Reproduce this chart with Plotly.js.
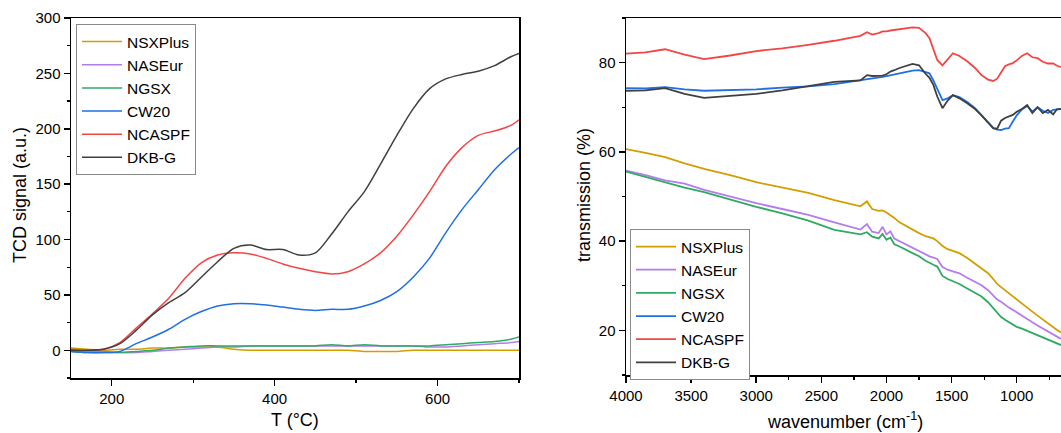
<!DOCTYPE html>
<html>
<head>
<meta charset="utf-8">
<script src="https://cdn.plot.ly/plotly-3.0.1.min.js"></script>
<style>html,body{margin:0;padding:0;background:#fff;}#chart{width:1061px;height:433px;}</style>
</head>
<body>
<div id="chart"></div>
<script>
// ---- Left panel: TCD signal vs temperature ----
var T = [150,170,190,210,230,250,270,290,310,330,350,370,390,410,430,450,470,490,510,530,550,570,590,610,630,650,670,690,700];
var tcdNSXPlus = [2,1,0,1,1,2,2,3,3,3,1,0,0,0,0,0,0,0,-1,-1,-1,0,0,0,0,0,0,0,0];
var tcdNASEur  = [0,-1,-1,-2,-2,-1,0,1,2,3,3,4,4,4,4,4,4,4,4,4,4,4,3,3,4,5,6,7,8];
var tcdNGSX    = [-1,-2,-2,-2,-1,0,2,3,4,4,4,4,4,4,4,4,5,4,5,4,4,4,4,5,6,7,8,10,12];
var tcdCW20    = [-1,-2,-2,-1,6,12,19,28,35,40,42,42,41,39,37,36,37,37,40,45,53,66,83,106,127,145,163,177,183];
var tcdNCASPF  = [1,0,1,7,20,33,47,65,79,86,88,87,83,78,74,71,69,71,78,88,103,122,143,166,183,194,198,203,208];
var tcdDKBG    = [0,0,1,6,18,32,43,52,66,80,92,95,91,91,86,88,105,125,143,168,194,218,236,245,249,252,257,265,268];

// ---- Right panel: FTIR transmission vs wavenumber ----
var W = [4000,3850,3700,3550,3400,3200,3000,2800,2600,2400,2200,2150,2110,2060,2030,2000,1970,1940,1900,1800,1750,1700,1670,1640,1610,1570,1530,1490,1440,1380,1320,1270,1220,1180,1150,1120,1090,1060,1030,1000,960,920,880,840,800,760,720,690,660];
var irNSXPlus = [60.6,59.8,58.8,57.4,56.2,54.8,53.2,52.0,50.8,49.2,47.8, 48.9,47.2,46.8,46.9,46.4,45.8,45.2,44.2, 42.5,41.8,41.1,40.9,40.6,40.0,38.9,38.2,37.8,37.3, 36.2,35.0,34.0,32.8,31.5,30.4,29.7,29.0,28.2,27.5, 27.0,26.0,25.1,24.2,23.3,22.4,21.6,20.8,20.1,19.5];
var irNASEur  = [55.8,54.8,53.6,52.9,51.5,50.0,48.5,47.2,45.9,44.2,42.6, 43.8,42.1,41.8,43.2,41.5,42.2,40.6,40.0, 38.6,37.9,37.0,36.6,36.3,36.0,34.2,33.6,33.2,32.8, 31.8,30.8,30.1,29.0,27.7,26.9,26.4,25.7,25.1,24.6, 24.0,23.3,22.6,21.8,21.1,20.4,19.8,19.1,18.6,18.1];
var irNGSX    = [55.6,54.4,53.3,52.0,51.0,49.3,47.7,46.2,44.6,42.5,41.5, 42.0,41.0,40.6,41.6,40.3,40.8,39.3,38.8, 37.3,36.6,35.6,35.1,34.7,34.3,32.2,31.5,31.0,30.4, 29.4,28.4,27.6,26.3,25.0,23.8,23.0,22.4,21.8,21.2, 20.8,20.4,19.9,19.5,19.0,18.5,18.0,17.5,17.1,16.7];
var irCW20    = [74.3,74.2,74.5,74.0,73.7,73.8,74.0,74.4,74.7,75.2,76.0, 76.3,76.5,76.7,76.8,77.0,77.2,77.4,77.7, 78.2,78.3,77.9,77.6,76.0,74.0,71.6,72.0,72.7,72.3, 71.2,69.8,68.2,66.5,65.3,65.0,64.9,65.2,65.3,66.8, 68.2,69.5,70.3,69.0,70.0,69.2,68.7,69.4,69.5,69.6];
var irNCASPF  = [82.0,82.3,83.0,81.8,80.8,81.6,82.6,83.2,84.0,84.9,86.0, 86.8,86.3,86.6,87.0,87.0,87.2,87.3,87.5, 87.9,87.8,86.6,85.5,83.0,80.6,79.4,80.8,82.1,81.5, 80.3,78.8,77.2,76.2,75.9,76.4,77.8,79.2,79.6,79.9, 80.5,81.5,82.1,81.2,81.0,80.2,79.8,79.8,79.3,79.0];
var irDKBG    = [73.7,73.8,74.3,73.0,72.1,72.5,73.0,73.8,74.7,75.7,76.0, 77.2,77.0,77.0,77.1,77.4,78.0,78.3,78.8, 79.7,79.4,77.5,76.6,75.0,72.4,69.8,71.5,72.7,72.0, 70.9,69.6,68.2,66.5,65.3,65.2,67.0,67.6,68.0,68.3, 69.0,69.6,70.5,68.7,70.0,68.7,69.4,68.4,69.6,69.6];

var names  = ["NSXPlus","NASEur","NGSX","CW20","NCASPF","DKB-G"];
var colors = ["#d39e00","#b57cee","#2eaa62","#1f6fe5","#f44545","#404040"];
var leftY  = [tcdNSXPlus,tcdNASEur,tcdNGSX,tcdCW20,tcdNCASPF,tcdDKBG];
var rightY = [irNSXPlus,irNASEur,irNGSX,irCW20,irNCASPF,irDKBG];

var traces = [];
for (var i=0;i<names.length;i++){
  traces.push({x:T, y:leftY[i], type:'scatter', mode:'lines', name:names[i],
    line:{color:colors[i], width:1.5, shape:'spline', smoothing:0.8},
    xaxis:'x', yaxis:'y', legend:'legend'});
}
for (var j=0;j<names.length;j++){
  traces.push({x:W, y:rightY[j], type:'scatter', mode:'lines', name:names[j],
    line:{color:colors[j], width:1.8},
    xaxis:'x2', yaxis:'y2', legend:'legend2'});
}

var W0=1061, H0=433;
function px(x){return x/W0;}
function py(y){return 1-y/H0;}
var tickFont = {family:'Liberation Sans, Arial, sans-serif', size:15, color:'#000'};
var axBase = {showgrid:false, zeroline:false, showline:true, linecolor:'#000', linewidth:1.5,
  ticks:'outside', ticklen:6, tickwidth:1.5, tickcolor:'#000', tickfont:tickFont};

function ax(extra){ var o={}; for (var k in axBase) o[k]=axBase[k]; for (var k2 in extra) o[k2]=extra[k2]; return o; }

var legendBase = {xanchor:'left', yanchor:'top', bgcolor:'#fff', bordercolor:'#8a8a8a', borderwidth:1,
  font:{family:'Liberation Sans, Arial, sans-serif', size:15.5, color:'#000'}, itemwidth:40, tracegroupgap:0};
function leg(x,y){ var o={}; for (var k in legendBase) o[k]=legendBase[k]; o.x=x; o.y=y; return o; }

var titleFont = {family:'Liberation Sans, Arial, sans-serif', size:18, color:'#000'};

var layout = {
  width:W0, height:H0, margin:{l:0,r:0,t:0,b:0},
  paper_bgcolor:'#fff', plot_bgcolor:'#fff', showlegend:true,
  font:{family:'Liberation Sans, Arial, sans-serif', color:'#000'},
  xaxis: ax({domain:[px(71),px(519)], anchor:'y', range:[150,700], tick0:0, dtick:200, mirror:true,
    minor:{dtick:100, tick0:0, ticks:'outside', ticklen:3, tickwidth:1.2, tickcolor:'#000'}}),
  yaxis: ax({domain:[1-378/H0, 1-18/H0], anchor:'x', range:[-25,300], tick0:0, dtick:50, mirror:true,
    minor:{dtick:25, tick0:0, ticks:'outside', ticklen:3, tickwidth:1.2, tickcolor:'#000'}}),
  xaxis2: ax({domain:[px(626),1], anchor:'y2', range:[4000,660], tick0:0, dtick:500, mirror:true,
    minor:{dtick:250, tick0:0, ticks:'outside', ticklen:3, tickwidth:1.2, tickcolor:'#000'}}),
  yaxis2: ax({domain:[1-375/H0, 1-18/H0], anchor:'x2', range:[10,90], tick0:0, dtick:20, mirror:false,
    minor:{dtick:10, tick0:0, ticks:'outside', ticklen:3, tickwidth:1.2, tickcolor:'#000'}}),
  legend: leg(px(76), py(24)),
  legend2: leg(px(630), py(229)),
  annotations:[
    {text:'TCD signal (a.u.)', xref:'paper', yref:'paper', x:px(20), y:py(195), textangle:-90, showarrow:false, font:titleFont, xanchor:'center', yanchor:'middle'},
    {text:'T (°C)', xref:'paper', yref:'paper', x:px(295), y:py(420), showarrow:false, font:titleFont, xanchor:'center', yanchor:'middle'},
    {text:'transmission (%)', xref:'paper', yref:'paper', x:px(584), y:py(195), textangle:-90, showarrow:false, font:titleFont, xanchor:'center', yanchor:'middle'},
    {text:'wavenumber (cm<sup>-1</sup>)', xref:'paper', yref:'paper', x:px(845), y:py(420), showarrow:false, font:titleFont, xanchor:'center', yanchor:'middle'}
  ]
};

Plotly.newPlot('chart', traces, layout, {displayModeBar:false, staticPlot:true});
</script>
</body>
</html>
